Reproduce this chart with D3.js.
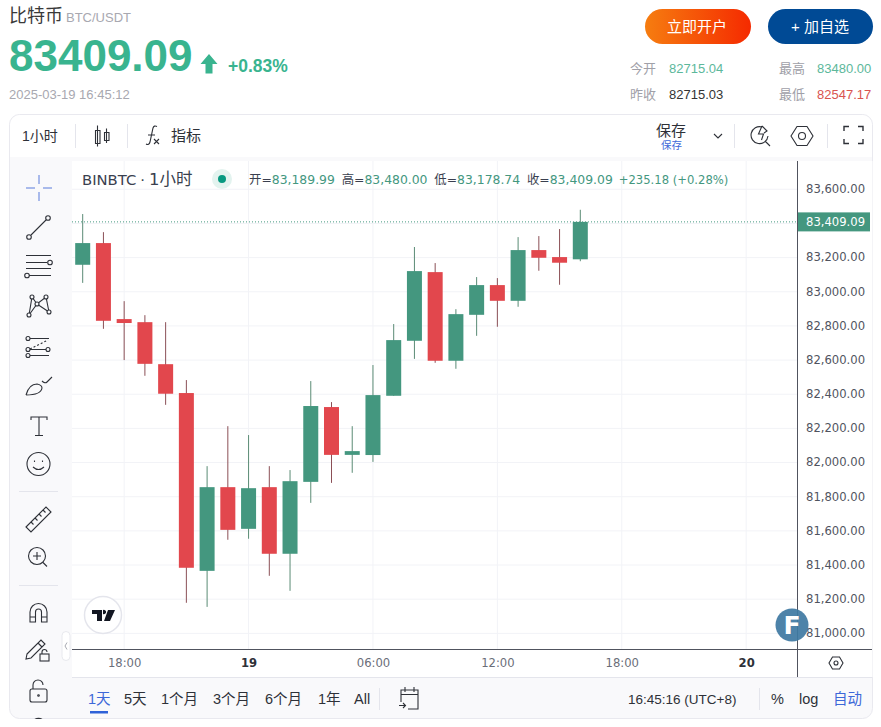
<!DOCTYPE html>
<html>
<head>
<meta charset="utf-8">
<script src="https://cdnjs.cloudflare.com/ajax/libs/d3/7.8.5/d3.min.js"></script>
<style>
html, body { margin: 0; padding: 0; background: #fff; overflow: hidden; }
svg { display: block; }
text { font-family: "Liberation Sans", "Noto Sans CJK SC", sans-serif; }
.chartText, .chartText text { font-family: "DejaVu Sans", "Noto Sans CJK SC", sans-serif; }
.icon { fill: none; stroke: #2e3138; stroke-width: 1.1; }
</style>
</head>
<body>
<svg width="881" height="727"></svg>
<script>
// hourly candles, 18 Mar 16:00 to 19 Mar 16:00 (UTC+8)
const candleTimes = [
  "2025-03-18T16:00Z", "2025-03-18T17:00Z", "2025-03-18T18:00Z", "2025-03-18T19:00Z", "2025-03-18T20:00Z",
  "2025-03-18T21:00Z", "2025-03-18T22:00Z", "2025-03-18T23:00Z", "2025-03-19T00:00Z", "2025-03-19T01:00Z",
  "2025-03-19T02:00Z", "2025-03-19T03:00Z", "2025-03-19T04:00Z", "2025-03-19T05:00Z", "2025-03-19T06:00Z",
  "2025-03-19T07:00Z", "2025-03-19T08:00Z", "2025-03-19T09:00Z", "2025-03-19T10:00Z", "2025-03-19T11:00Z",
  "2025-03-19T12:00Z", "2025-03-19T13:00Z", "2025-03-19T14:00Z", "2025-03-19T15:00Z", "2025-03-19T16:00Z"
]
const opens = [83158, 83285, 82840, 82822, 82576, 82407, 81366, 81856, 81612, 81856, 81466, 81887, 82325,
  82045, 82044, 82391, 82713, 83115, 82596, 82865, 83039, 82947, 83244, 83203, 83189.99]
const closes = [83285, 82830, 82817, 82578, 82403, 81384, 81856, 81606, 81850, 81466, 81891, 82331, 82045,
  82067, 82395, 82717, 83121, 82596, 82869, 83039, 82947, 83244, 83199, 83170, 83409.09]
const highs = [83455, 83349, 82945, 82863, 82822, 82483, 81979, 82213, 82161, 81979, 81956, 82477, 82354,
  82213, 82571, 82811, 83262, 83168, 82898, 83086, 83080, 83320, 83326, 83367, 83480]
const lows = [83052, 82783, 82600, 82508, 82338, 81179, 81155, 81548, 81554, 81337, 81249, 81764, 81881,
  81940, 82004, 82391, 82607, 82584, 82549, 82742, 82795, 82912, 83123, 83041, 83178.74]

const priceTicks = [83600, 83400, 83200, 83000, 82800, 82600, 82400, 82200, 82000, 81800, 81600, 81400, 81200, 81000]
const timeTicks = ["2025-03-18T18:00Z", "2025-03-19T00:00Z", "2025-03-19T06:00Z", "2025-03-19T12:00Z", "2025-03-19T18:00Z", "2025-03-20T00:00Z"]
const timeLabels = ["18:00", "19", "06:00", "12:00", "18:00", "20"]
const lastPrice = 83409.09

const ranges = [["1天", 88], ["5天", 124], ["1个月", 161], ["3个月", 213], ["6个月", 265], ["1年", 318], ["All", 354]]

const green = "#44977f", red = "#e2474d"
const greenWick = "#5a8b75", redWick = "#8b4f56"
const grid = "#f2f3f7", axisLine = "#50535e"

let svg = d3.select("svg")

// x runs on from the last candle to the empty space on the right
let x = d3.scaleUtc()
  .domain([new Date(candleTimes[0]), new Date(candleTimes[24])])
  .range([82.7, 580.3])
let y = d3.scaleLinear()
  .domain([83200, 81200])
  .range([257.6, 599.2])

function txt(parent, s, px, py, size, color, extra) {
  let t = parent.append("text").attr("x", px).attr("y", py)
    .attr("font-size", size).attr("fill", color).text(s)
  if (extra) t.attr("font-weight", extra.weight || null).attr("text-anchor", extra.anchor || null)
  return t
}

// ---- page header
let defs = svg.append("defs")
let grad = defs.append("linearGradient").attr("id", "openBtn")
grad.append("stop").attr("offset", "0%").attr("stop-color", "#f67d10")
grad.append("stop").attr("offset", "100%").attr("stop-color", "#f52a00")

txt(svg, "比特币", 9, 22, 18, "#3a3a3a")
txt(svg, "BTC/USDT", 66, 22, 13, "#a8a8b0")
txt(svg, "83409.09", 9, 71, 44, "#39b48f", { weight: "bold" })
svg.append("path").attr("d", "M209 54 L217.5 64 L212.5 64 L212.5 73.5 L205.5 73.5 L205.5 64 L200.5 64 Z").attr("fill", "#39b48f")
txt(svg, "+0.83%", 228, 72, 17.5, "#39b48f", { weight: "bold" })
txt(svg, "2025-03-19 16:45:12", 9, 99, 13, "#a8a8b0")

svg.append("rect").attr("x", 645).attr("y", 9).attr("width", 106).attr("height", 35).attr("rx", 17.5).attr("fill", "url(#openBtn)")
txt(svg, "立即开户", 697, 32, 15, "#fff", { anchor: "middle" })
svg.append("rect").attr("x", 768).attr("y", 9).attr("width", 105).attr("height", 35).attr("rx", 17.5).attr("fill", "#004a95")
txt(svg, "+ 加自选", 820, 32, 15, "#fff", { anchor: "middle" })

txt(svg, "今开", 630, 73, 13, "#a0a0a8")
txt(svg, "82715.04", 669, 73, 13, "#5cb89b")
txt(svg, "最高", 779, 73, 13, "#a0a0a8")
txt(svg, "83480.00", 817, 73, 13, "#5cb89b")
txt(svg, "昨收", 630, 99, 13, "#a0a0a8")
txt(svg, "82715.03", 669, 99, 13, "#333")
txt(svg, "最低", 779, 99, 13, "#a0a0a8")
txt(svg, "82547.17", 817, 99, 13, "#d9534f")

// ---- widget frame
svg.append("rect").attr("x", 9.5).attr("y", 114.5).attr("width", 863).attr("height", 604).attr("rx", 10)
  .attr("fill", "#f9f9fb").attr("stroke", "#e9e9ef")
svg.append("path").attr("d", "M10 157 V125 a10 10 0 0 1 10 -10 H862 a10 10 0 0 1 10 10 V157 Z").attr("fill", "#fff")
svg.append("rect").attr("x", 72).attr("y", 161).attr("width", 800.5).attr("height", 516).attr("fill", "#fff")
svg.append("line").attr("x1", 72).attr("x2", 872).attr("y1", 677.5).attr("y2", 677.5).attr("stroke", "#e4e5ec")

// ---- top toolbar
let topBar = svg.append("g")
txt(topBar, "1小时", 22, 141, 14, "#2e3138")
txt(topBar, "指标", 171, 141, 15, "#2e3138")
txt(topBar, "保存", 656, 136, 15, "#2e3138")
txt(topBar, "保存", 661, 149, 10.5, "#3d68d8")
;[75.5, 127.5, 734.5, 827.5].forEach(sx => {
  topBar.append("line").attr("x1", sx).attr("x2", sx).attr("y1", 124).attr("y2", 148).attr("stroke", "#e4e5ec")
})
let ic = topBar.append("g").attr("class", "icon")
ic.append("path").attr("d", "M97.5 125.5 V146.5 M95.5 130.5 h4.5 v13 h-4.5 Z M106.5 128.5 V143 M104.5 132.5 h4.5 v8 h-4.5 Z")
ic.append("path").attr("d", "M146 144 q3 1.5 4 -2 l3 -14 q1 -3 4 -1.5 M148 135 h7 M154 139 l5 5 M159 139 l-5 5")
ic.append("path").attr("d", "M714 134 l4 4 l4 -4")
ic.append("path").attr("d", "M762 127 a8.5 8.5 0 1 0 6 9 M770 146 l-5 -5 M762 126 l-3.5 8 h5 l-2 6 M762 126 l5 5 l-3 2")
ic.append("path").attr("d", "M791 136 l6 -9.5 h10 l6 9.5 l-6 9.5 h-10 Z")
ic.append("circle").attr("cx", 802).attr("cy", 136).attr("r", 3.5)
ic.append("path").attr("d", "M844 131 v-4.5 h5 M858 126.500 h5 v4.500 M863 139 v4.500 h-5 M849 143.500 h-5 v-4.500").attr("stroke-width", 1.4)

// ---- left toolbar, icons are just drawn by hand
let tools = svg.append("g").attr("class", "icon")
tools.append("path").attr("d", "M39 175 v9 M39 192 v9 M26 188 h9 M43 188 h9").attr("stroke", "#8ea5e6").attr("stroke-width", 1.5)
tools.append("path").attr("d", "M31 235 L46 220")
tools.append("circle").attr("cx", 29).attr("cy", 237).attr("r", 2.3)
tools.append("circle").attr("cx", 48).attr("cy", 218).attr("r", 2.3)
tools.append("path").attr("d", "M26 255.500 H51 M26 262.500 H47 M29 275.500 H51 M26 268.500 H51")
tools.append("circle").attr("cx", 50).attr("cy", 262.500).attr("r", 2.3)
tools.append("circle").attr("cx", 27).attr("cy", 275.500).attr("r", 2.3)
tools.append("path").attr("d", "M29 315 L32 297 L37 304 L46 297 L49 312 L37 304 L29 315")
;[[29, 315], [32, 297], [37, 304], [46, 297], [49, 312]].forEach(p => {
  tools.append("circle").attr("cx", p[0]).attr("cy", p[1]).attr("r", 2).attr("fill", "#f9f9fb")
})
tools.append("path").attr("d", "M30 338.500 H49 M30 349.500 H46 M30 355.500 H49")
tools.append("path").attr("d", "M30 349 L48 340").attr("stroke-dasharray", "2 2")
;[[28, 338.500], [28, 349.500], [48, 349.500], [28, 355.500]].forEach(p => {
  tools.append("circle").attr("cx", p[0]).attr("cy", p[1]).attr("r", 2).attr("fill", "#f9f9fb")
})
tools.append("path").attr("d", "M26 395 q3 -11 11 -11 q5 1 5 4 q-1 7 -16 7 M42 381 q3 3 5 1 l5 -5")
tools.append("path").attr("d", "M31 420 v-3 h16 v3 M39 417 V435 M35 435.500 H43")
tools.append("circle").attr("cx", 38.500).attr("cy", 464).attr("r", 11.500)
tools.append("path").attr("d", "M33 467 q5.500 5 11 0 M34.500 460.500 v1.500 M42.500 460.500 v1.500")
tools.append("path").attr("d", "M26 527 L46 507 L51 512 L31 532 Z M31 522 l2.500 2.500 M35 518 l2.500 2.500 M39 514 l2.500 2.500 M43 510 l2.500 2.500")
tools.append("circle").attr("cx", 37).attr("cy", 556).attr("r", 8.500)
tools.append("path").attr("d", "M33 556 h8 M37 552 v8 M43 562.500 l4 4")
tools.append("path").attr("d", "M30 622 V612 a8.500 8.500 0 0 1 17 0 V622 h-5.500 V612 a3 3 0 0 0 -6 0 V622 Z M30 617 h5.500 M41.500 617 H47")
tools.append("path").attr("d", "M27 654 L41 640 L45 644 L31 658 L26 659 Z M38 643 l4 4")
tools.append("rect").attr("x", 40).attr("y", 654).attr("width", 9).attr("height", 7)
tools.append("path").attr("d", "M42 654 v-2 a2.500 2.500 0 0 1 5 0")
tools.append("rect").attr("x", 30).attr("y", 689).attr("width", 17).attr("height", 13).attr("rx", 2)
tools.append("path").attr("d", "M33 689 v-4 a5 5 0 0 1 10 0 v0")
tools.append("circle").attr("cx", 38.500).attr("cy", 695.500).attr("r", 0.800)
tools.append("path").attr("d", "M33 722 a6 6 0 0 1 11 0")
svg.append("rect").attr("x", 0).attr("y", 719).attr("width", 881).attr("height", 8).attr("fill", "#fff")
;[491.500, 585.500].forEach(sy => {
  svg.append("line").attr("x1", 19).attr("x2", 58).attr("y1", sy).attr("y2", sy).attr("stroke", "#e4e5ec")
})
svg.append("rect").attr("x", 62).attr("y", 631.500).attr("width", 8).attr("height", 29).attr("rx", 4)
  .attr("fill", "#fff").attr("stroke", "#e8e9ee")
svg.append("path").attr("d", "M67 642.500 l-2 3.500 l2 3.500").attr("fill", "none").attr("stroke", "#a9abb3")

// ---- chart
let chart = svg.append("g").attr("class", "chartText")

let yAxis = d3.axisRight(y).tickValues(priceTicks).tickSize(0).tickPadding(8.5)
  .tickFormat(d3.format(",.2f"))
let xAxis = d3.axisBottom(x).tickValues(timeTicks.map(d => new Date(d))).tickSize(0).tickPadding(9.5)
  .tickFormat((d, i) => timeLabels[i])

// grid
chart.append("g").selectAll("line").data(priceTicks).enter().append("line")
  .attr("x1", 72).attr("x2", 797).attr("y1", d => y(d)).attr("y2", d => y(d))
  .attr("stroke", grid)
chart.append("g").selectAll("line").data(timeTicks).enter().append("line")
  .attr("x1", d => x(new Date(d))).attr("x2", d => x(new Date(d))).attr("y1", 161).attr("y2", 649)
  .attr("stroke", grid)

// last price line
chart.append("line").attr("x1", 72).attr("x2", 797)
  .attr("y1", y(lastPrice)).attr("y2", y(lastPrice))
  .attr("stroke", green).attr("stroke-dasharray", "1 2")

// candles
let candles = chart.append("g").selectAll("g").data(candleTimes).enter().append("g")
candles.append("line")
  .attr("x1", d => x(new Date(d))).attr("x2", d => x(new Date(d)))
  .attr("y1", (d, i) => y(highs[i])).attr("y2", (d, i) => y(lows[i]))
  .attr("stroke", (d, i) => closes[i] >= opens[i] ? greenWick : redWick)
candles.append("rect")
  .attr("x", d => x(new Date(d)) - 7.5).attr("width", 15)
  .attr("y", (d, i) => y(Math.max(opens[i], closes[i])))
  .attr("height", (d, i) => Math.abs(y(opens[i]) - y(closes[i])))
  .attr("fill", (d, i) => closes[i] >= opens[i] ? green : red)

// axes
let yg = chart.append("g").attr("transform", "translate(797.5,-0.4)").call(yAxis)
yg.select(".domain").remove()
yg.selectAll("text").attr("font-size", 11.6).attr("fill", "#50535e").attr("font-family", null)
let xg = chart.append("g").attr("transform", "translate(0,649.5)").call(xAxis)
xg.select(".domain").remove()
xg.selectAll("text").attr("font-size", 11.6).attr("font-family", null)
  .attr("font-weight", (d, i) => timeLabels[i].length < 3 ? "bold" : null)
  .attr("fill", (d, i) => timeLabels[i].length < 3 ? "#2e3138" : "#6a6d78")

chart.append("line").attr("x1", 72).attr("x2", 872).attr("y1", 649.5).attr("y2", 649.5).attr("stroke", axisLine)
chart.append("line").attr("x1", 797.5).attr("x2", 797.5).attr("y1", 161).attr("y2", 677).attr("stroke", axisLine)

// price tag
chart.append("rect").attr("x", 798).attr("y", y(lastPrice) - 9.5).attr("width", 72).attr("height", 19).attr("fill", green)
txt(chart, d3.format(",.2f")(lastPrice), 806, y(lastPrice) + 4.2, 11.6, "#fff")

// legend
let title = txt(chart, "BINBTC", 82, 184.5, 14.8, "#3a3f4f")
title.append("tspan").attr("dx", 4).text("·")
title.append("tspan").attr("dx", 4).attr("font-size", 16.5).text("1小时")
chart.append("circle").attr("cx", 222).attr("cy", 179).attr("r", 10).attr("fill", "#e3f3ef")
chart.append("circle").attr("cx", 222).attr("cy", 179).attr("r", 4).attr("fill", "#089981")
let ohlc = [["开=", d3.format(",.2f")(opens[24])], ["高=", d3.format(",.2f")(highs[24])],
  ["低=", d3.format(",.2f")(lows[24])], ["收=", d3.format(",.2f")(closes[24])]]
let legend = txt(chart, "", 249, 184, 12.4, "#3a3f4f")
ohlc.forEach((o, i) => {
  legend.append("tspan").attr("dx", i ? 6.8 : 0).text(o[0])
  legend.append("tspan").attr("fill", "#44977f").text(o[1])
})
legend.append("tspan").attr("dx", 6).attr("fill", "#44977f").attr("font-size", 11.6).text("+235.18 (+0.28%)")

// tradingview badge
chart.append("circle").attr("cx", 103).attr("cy", 615).attr("r", 18.500).attr("fill", "#fff").attr("stroke", "#e4e5ec").attr("stroke-width", 1.500)
chart.append("path").attr("d", "M92 610 h10 v11 h-5 v-7 h-5 Z M103 610 a2.200 2.200 0 1 1 0.010 4 Z M108 610 h7 l-5 11 h-6 Z").attr("fill", "#131722")

// F badge
chart.append("circle").attr("cx", 792).attr("cy", 625).attr("r", 16.500).attr("fill", "#3f7aa3").attr("fill-opacity", 0.93)
txt(chart, "F", 792, 634, 25, "#fff", { weight: "bold", anchor: "middle" }).attr("font-family", "Liberation Sans")

// axis settings
let gear = svg.append("g").attr("class", "icon")
gear.append("path").attr("d", "M829 663 l3.500 -6 h7 l3.500 6 l-3.500 6 h-7 Z")
gear.append("circle").attr("cx", 836).attr("cy", 663).attr("r", 2)

// ---- bottom bar
let bottom = svg.append("g")
ranges.forEach((r, i) => txt(bottom, r[0], r[1], 704, 14.5, i == 0 ? "#3d68d8" : "#2e3138"))
bottom.append("rect").attr("x", 90).attr("y", 711).attr("width", 18).attr("height", 2.500).attr("fill", "#2f62d8")
;[379.500, 759.500].forEach(sx => {
  bottom.append("line").attr("x1", sx).attr("x2", sx).attr("y1", 688).attr("y2", 710).attr("stroke", "#e4e5ec")
})
let cal = bottom.append("g").attr("class", "icon")
cal.append("path").attr("d", "M401 702 V690 H418 V709 H408 M401 694.500 H418 M405 687 v5 M414 687 v5 M399 705.500 h6.500 M403 703 l2.500 2.500 l-2.500 2.500")
txt(bottom, "16:45:16 (UTC+8)", 628, 704, 13.5, "#2e3138").attr("font-family", "DejaVu Sans")
txt(bottom, "%", 771, 704, 14.5, "#2e3138")
txt(bottom, "log", 799, 704, 14.5, "#2e3138")
txt(bottom, "自动", 833, 704, 14.5, "#3d68d8")
</script>
</body>
</html>
